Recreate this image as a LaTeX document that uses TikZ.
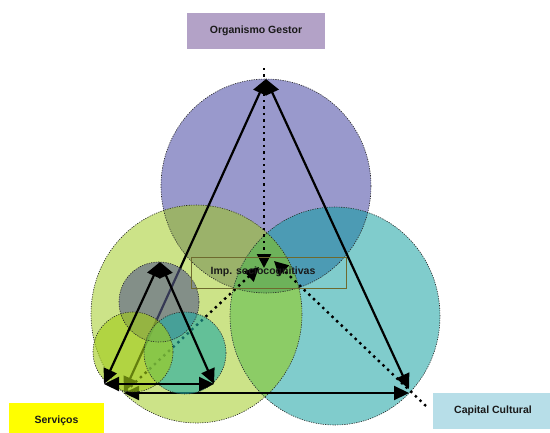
\documentclass[tikz,border=0pt]{standalone}
\usepackage{fontspec}
\setmainfont{Liberation Sans}
\usetikzlibrary{arrows.meta}
\definecolor{purp}{HTML}{9999CC}
\definecolor{tealb}{HTML}{80CCCC}
\definecolor{greenb}{HTML}{CCE388}
\definecolor{olivePG}{HTML}{9BB26A}
\definecolor{bluePT}{HTML}{4C9BB4}
\definecolor{greenGT}{HTML}{8CCC66}
\definecolor{tripleC}{HTML}{6DB25A}
\definecolor{smgray}{HTML}{575C88}
\definecolor{smteal}{HTML}{23ACA3}
\definecolor{smyel}{HTML}{A1CC18}
\definecolor{orgc}{HTML}{B3A2C7}
\definecolor{capc}{HTML}{B7DEE8}
\definecolor{servc}{HTML}{FFFF00}
\definecolor{boxc}{HTML}{6E6A2E}
\begin{document}
\begin{tikzpicture}[x=1pt,y=-1pt,
  circ/.style={draw=black!85, line width=0.6pt, dash pattern=on 1.2pt off 1.2pt},
  arr/.style={line width=2.2pt, {Triangle[length=15pt,width=14pt]}-{Triangle[length=15pt,width=14pt]}},
  dots/.style={line width=2.4pt, dash pattern=on 2.4pt off 4pt, -{Triangle[length=14pt,width=14pt]}},
  lab/.style={inner sep=0pt, font=\fontsize{10.5}{12}\selectfont\bfseries, text=black!90},
  small/.style={fill opacity=0.62}
]
\useasboundingbox (0,0) rectangle (550,432);
\def\cP{(266,186) ellipse (105pt and 107pt)}
\def\cG{(196.5,314) ellipse (105.5pt and 109pt)}
\def\cT{(335,316) ellipse (105pt and 109pt)}
% big circles
\fill[purp] \cP;
\fill[greenb] \cG;
\fill[tealb] \cT;
\begin{scope}\clip \cP; \fill[olivePG] \cG; \end{scope}
\begin{scope}\clip \cP; \fill[bluePT] \cT; \end{scope}
\begin{scope}\clip \cG; \fill[greenGT] \cT; \end{scope}
\begin{scope}\clip \cP; \clip \cG; \fill[tripleC] \cT; \end{scope}
\draw[circ] \cP;
\draw[circ] \cG;
\draw[circ] \cT;
% big triangle
\coordinate (A) at (266,79);
\coordinate (B) at (409,389);
\coordinate (C) at (124,392);
\coordinate (Cb) at (124,393);
\coordinate (Bb) at (409,393);
\coordinate (ctr1) at (264,268);
\coordinate (ctr2) at (274,261);
\coordinate (ctr3) at (259,267);
\coordinate (d1s) at (264,68);
\coordinate (d2s) at (426,406);
\coordinate (d3s) at (126,391);
\draw[arr] (C) -- (A);
\draw[arr] (A) -- (B);
\draw[arr] (Cb) -- (Bb);
\draw[dots] (d1s) -- (ctr1);
\draw[dots] (d2s) -- (ctr2);
\draw[dots] (d3s) -- (ctr3);
% small circles
\def\sG{(159,302) circle (40pt)}
\def\sT{(185,353) circle (41pt)}
\def\sY{(133,352) circle (40pt)}
\fill[smgray, small] \sG;
\fill[smteal, small] \sT;
\fill[smyel, small] \sY;
\draw[circ] \sG;
\draw[circ] \sT;
\draw[circ] \sY;
% small triangle
\coordinate (a) at (160,262);
\coordinate (b) at (104,384);
\coordinate (c) at (214,384);
\draw[arr] (b) -- (a);
\draw[arr] (a) -- (c);
\draw[arr] (b) -- (c);
% text box
\node[draw=boxc, line width=0.8pt, minimum width=155pt, minimum height=31pt, inner sep=0pt] (impbox) at (268.5,272.5) {};
\node[lab] (imp) at (263,272) {Imp. sociocognitivas};
% labels
\node[lab, fill=orgc, minimum width=138pt, minimum height=36pt] (org) at (256,31) {Organismo Gestor};
\node[lab, fill=capc, minimum width=120pt, minimum height=36pt] (cap) at (493,411) {Capital Cultural};
\node[lab, fill=servc, minimum width=95pt, minimum height=36pt] (serv) at (56.5,421) {Serviços};
\end{tikzpicture}
\end{document}
